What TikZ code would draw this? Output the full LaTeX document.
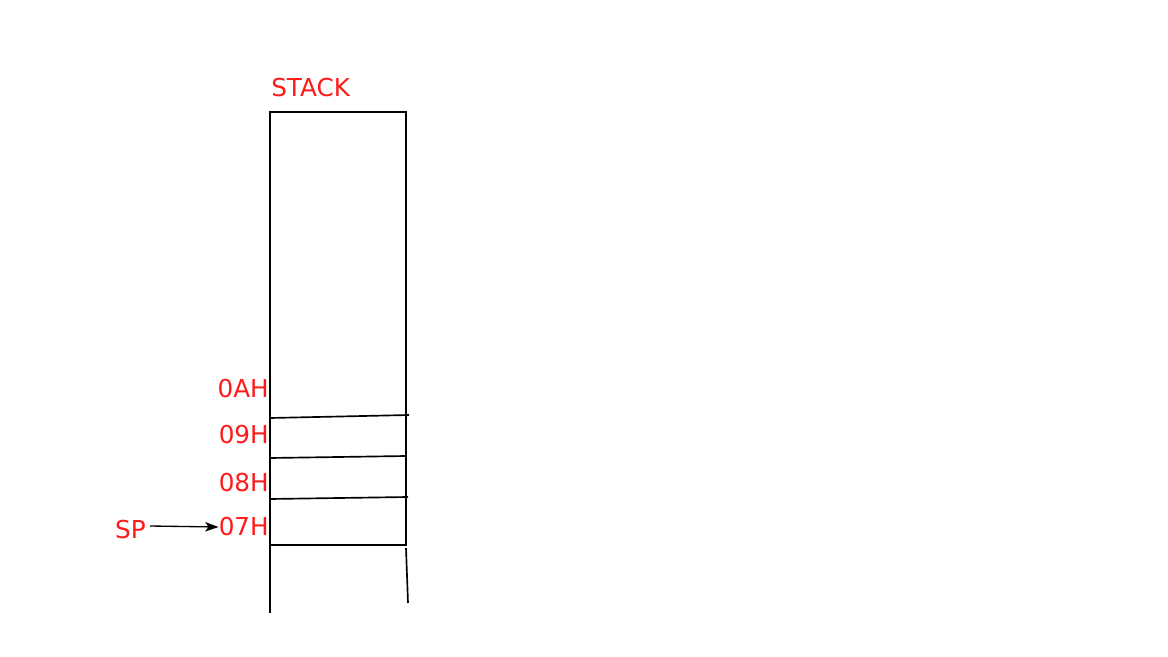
\documentclass[tikz,border=0pt]{standalone}
\usepackage{fontspec}
\setmainfont{DejaVu Sans}
\usetikzlibrary{arrows.meta}
\definecolor{lblred}{HTML}{FF1A1A}
\tikzset{
    addr/.style={text=lblred, inner sep=0pt, anchor=east, font=\fontsize{18.5}{21}\selectfont},
    cell/.style={black, line width=1.25pt},
}
\begin{document}
\begin{tikzpicture}[x=0.75pt, y=-0.75pt]
    \useasboundingbox (0,0) rectangle (1168,657);
    % stack outline
    \draw[cell] (270,613) -- (270,112) -- (406,112) -- (406,545) -- (270,545);
    \draw[cell] (270,418) -- (409,415);
    \draw[cell] (270,458) -- (406,456);
    \draw[cell] (270,499) -- (408,497);
    \draw[cell] (406,548) -- (408,603);
    % labels
    \node[addr, anchor=west] (stack) at (271,88) {STACK};
    \node[addr] (a0A) at (269,389) {0AH};
    \node[addr] (a09) at (269,435) {09H};
    \node[addr] (a08) at (269,483) {08H};
    \node[addr] (a07) at (269,527) {07H};
    \node[addr] (sp) at (146,530) {SP};
    \draw[cell, line width=1pt, -{Stealth[length=10pt, width=7pt, inset=2.5pt]}] (sp.east) ++(4,-4) coordinate (spr) -- (a07.west);
\end{tikzpicture}
\end{document}
